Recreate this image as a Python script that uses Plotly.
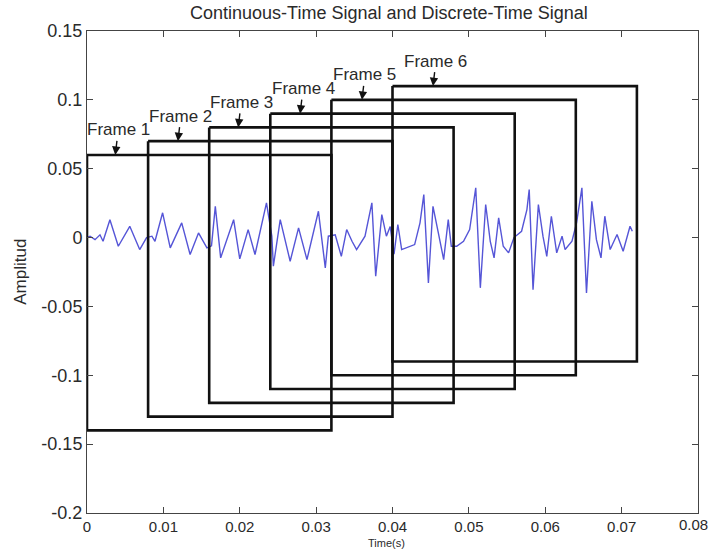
import plotly.graph_objects as go

# ---- data ----
sig_t = [0.0000, 0.0004, 0.00105, 0.0017, 0.0021, 0.0030, 0.0041, 0.0056, 0.0069, 0.0078,
         0.0085, 0.0089, 0.0099, 0.0109, 0.0124, 0.0135, 0.0146, 0.0157, 0.0163, 0.0168,
         0.0175, 0.0192, 0.0200, 0.0211, 0.0220, 0.0235, 0.0242, 0.0244, 0.0253, 0.0266,
         0.0277, 0.0288, 0.0303, 0.0312, 0.0316, 0.0325, 0.0333, 0.0340, 0.0347, 0.0353,
         0.0364, 0.0373, 0.0378, 0.0386, 0.0392, 0.0397, 0.0402, 0.0407, 0.0412, 0.0423,
         0.0429, 0.0436, 0.0441, 0.0447, 0.0453, 0.0460, 0.0467, 0.0473, 0.0477, 0.0484,
         0.0493, 0.0501, 0.0509, 0.0515, 0.0522, 0.0528, 0.0533, 0.0539, 0.0545, 0.0552,
         0.0559, 0.0569, 0.0576, 0.0579, 0.0584, 0.0591, 0.0597, 0.0602, 0.0608, 0.0615,
         0.0622, 0.0626, 0.0635, 0.0641, 0.0648, 0.0654, 0.0661, 0.0667, 0.0673, 0.0678,
         0.0685, 0.0694, 0.0702, 0.0711, 0.0714]
sig_v = [0.0000, 0.0010, -0.0015, 0.0020, -0.0027, 0.0130, -0.0063, 0.0082, -0.0087, 0.0000,
         0.0010, -0.0027, 0.0180, -0.0075, 0.0107, -0.0123, 0.0034, -0.0075, -0.0060, 0.0227,
         -0.0147, 0.0130, -0.0155, 0.0058, -0.0123, 0.0252, 0.0010, -0.0208, 0.0130, -0.0172,
         0.0070, -0.0160, 0.0191, -0.0220, 0.0010, 0.0020, -0.0136, 0.0058, -0.0027, -0.0087,
         0.0010, 0.0252, -0.0281, 0.0167, 0.0010, 0.0080, -0.0120, 0.0095, -0.0087, -0.0063,
         -0.0051, 0.0107, 0.0312, -0.0329, 0.0227, 0.0034, -0.0160, 0.0130, -0.0063, -0.0063,
         -0.0027, 0.0058, 0.0361, -0.0365, 0.0240, -0.0027, -0.0147, 0.0143, -0.0063, -0.0111,
         0.0000, 0.0046, 0.0203, 0.0349, -0.0378, 0.0240, 0.0010, -0.0136, 0.0155, -0.0111,
         0.0010, -0.0087, -0.0027, 0.0107, 0.0361, -0.0402, 0.0264, -0.0015, -0.0147, 0.0155,
         -0.0087, 0.0022, -0.0099, 0.0082, 0.0046]

frame_names = ["Frame 1", "Frame 2", "Frame 3", "Frame 4", "Frame 5", "Frame 6"]
frame_left = [0.000, 0.008, 0.016, 0.024, 0.032, 0.040]
frame_right = [0.032, 0.040, 0.048, 0.056, 0.064, 0.072]
frame_top = [0.06, 0.07, 0.08, 0.09, 0.10, 0.11]
frame_bottom = [-0.14, -0.13, -0.12, -0.11, -0.10, -0.09]
arrow_x = [0.0037, 0.0119, 0.0198, 0.0279, 0.0360, 0.0453]

x_ticks = [0, 0.01, 0.02, 0.03, 0.04, 0.05, 0.06, 0.07, 0.08]
x_ticktext = ["0", "0.01", "0.02", "0.03", "0.04", "0.05", "0.06", "0.07", "0.08"]
y_ticks = [0.15, 0.1, 0.05, 0, -0.05, -0.1, -0.15, -0.2]
y_ticktext = ["0.15", "0.1", "0.05", "0", "-0.05", "-0.1", "-0.15", "-0.2"]

title_text = "Continuous-Time Signal and Discrete-Time Signal"
x_title = "Time(s)"
y_title = "Amplitud"

FONT = "Liberation Sans, Arial, sans-serif"
TXT = "#2a2a2a"

fig = go.Figure()

fig.add_trace(go.Scatter(x=sig_t, y=sig_v, mode="lines",
                         line=dict(color="rgb(85,85,215)", width=1.4),
                         showlegend=False, hoverinfo="skip"))

for i in range(len(frame_names)):
    l, r, t, b = frame_left[i], frame_right[i], frame_top[i], frame_bottom[i]
    fig.add_trace(go.Scatter(x=[l, r, r, l, l], y=[t, t, b, b, t], mode="lines",
                             line=dict(color="#111111", width=2.6),
                             showlegend=False, hoverinfo="skip"))
    fig.add_annotation(x=arrow_x[i], y=t, xref="x", yref="y", text=frame_names[i],
                       showarrow=True, arrowhead=2, arrowsize=1.2, arrowwidth=1.4,
                       arrowcolor="#111111", ax=3, ay=-25,
                       font=dict(family=FONT, size=17, color=TXT))

# last x tick label (at the right figure edge) drawn as an annotation so it stays visible
fig.add_annotation(text=x_ticktext[-1], xref="paper", yref="paper", x=1.0 + 11 / 611, y=-0.004,
                   xanchor="right", yanchor="top", showarrow=False, borderpad=0,
                   font=dict(family=FONT, size=15, color=TXT))

fig.add_annotation(text=title_text, xref="paper", yref="paper", x=0.495, y=(513 - 13) / 482,
                   yanchor="middle", showarrow=False,
                   font=dict(family=FONT, size=18, color=TXT))
fig.add_annotation(text=x_title, xref="paper", yref="paper", x=0.49, y=-37 / 482,
                   yanchor="bottom", showarrow=False, borderpad=0,
                   font=dict(family=FONT, size=11, color=TXT))
fig.add_annotation(text=y_title, xref="paper", yref="paper", x=-0.11, y=0.5,
                   textangle=-90, xanchor="center", yanchor="middle", showarrow=False,
                   font=dict(family=FONT, size=17, color=TXT))

axis_common = dict(showline=True, linecolor="#444444", linewidth=1, mirror="allticks",
                   ticks="inside", ticklen=6, tickcolor="#444444", showgrid=False,
                   zeroline=False)

fig.update_layout(
    width=710, height=549,
    margin=dict(l=87, r=12, t=31, b=36),
    paper_bgcolor="white", plot_bgcolor="white",
    xaxis=dict(range=[0, 0.08], tickvals=x_ticks[:-1], ticktext=x_ticktext[:-1],
               tickfont=dict(family=FONT, size=15, color=TXT), ticklabelstandoff=0,
               **axis_common),
    yaxis=dict(range=[-0.2, 0.15], tickvals=y_ticks, ticktext=y_ticktext,
               tickfont=dict(family=FONT, size=18, color=TXT), **axis_common),
)
fig.add_trace(go.Scatter(x=[x_ticks[-1]], y=[y_ticks[0]], mode="markers",
                         marker=dict(size=0.1, opacity=0), showlegend=False, hoverinfo="skip"))

fig.write_html("out.html")
